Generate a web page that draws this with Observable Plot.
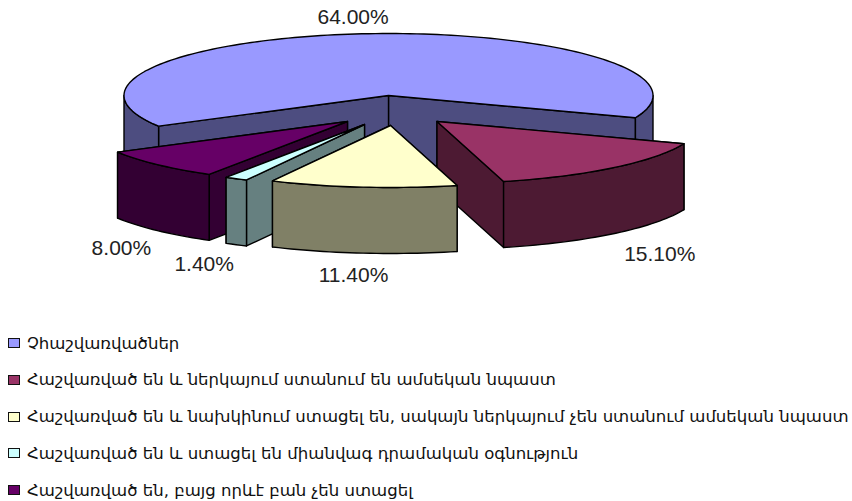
<!DOCTYPE html>
<html>
<head>
<meta charset="utf-8">
<script src="https://cdn.jsdelivr.net/npm/d3@7"></script>
<script src="https://cdn.jsdelivr.net/npm/@observablehq/plot@0.6"></script>
<style>
html,body{margin:0;padding:0;background:#fff;overflow:hidden;width:852px;height:501px}
svg{display:block}
#legend{padding-top:4px;font-family:"DejaVu Sans",sans-serif;font-size:16.56px;color:#111}
.row{display:flex;align-items:center;height:18px;margin-bottom:18.75px;white-space:nowrap}
.sw{box-sizing:border-box;width:12px;height:10px;border:1.5px solid #111;margin-left:8px;margin-right:7px;flex:none}
</style>
</head>
<body>
<div id="chart"></div>
<div id="legend"></div>
<script>
const categories = [
  "Չհաշվառվածներ",
  "Հաշվառված են և ներկայում ստանում են ամսեկան նպաստ",
  "Հաշվառված են և նախկինում ստացել են, սակայն ներկայում չեն ստանում ամսեկան նպաստ",
  "Հաշվառված են և ստացել են միանվագ դրամական օգնություն",
  "Հաշվառված են, բայց որևէ բան չեն ստացել"
];
const shares = [64.0, 15.1, 11.4, 1.4, 8.0];
const topColors = ["#9999FF", "#993366", "#FFFFCC", "#CCFFFF", "#660066"];
const wallColors = ["#4D4D80", "#4D1A33", "#808066", "#668080", "#330033"];

// pie layout
const W = 852, H = 330;
const cx = 388, cy = 95, rx = 264.5, ry = 62, depth = 66 / ry;
const firstAngle = 21;                 // where the second slice starts
const explodeX = [0, 48.5, 2, -24, -41]; // px
const explodeY = [0, 26, 30, 29, 26];    // px
const nudgeX = [-15.5, 46.5, -9.5, -32, -36];
const nudgeY = [-16, 21, 22, 20, 17.5];
const drawOrder = [0, 4, 1, 3, 2];

const total = d3.sum(shares);
const rad = d => d * Math.PI / 180;
const spans = shares.map(s => s / total * 360);
const ranges = [];
let a = firstAngle;
for (const i of [1, 2, 3, 4, 0]) { ranges[i] = [a, a + spans[i]]; a += spans[i]; }

const faces = [];
function addFace(poly, fill) {
  const id = faces.length ? faces[faces.length - 1].id + 1 : 0;
  [...poly, poly[0]].forEach(p => faces.push({id, x: p[0], y: p[1], fill}));
}
function arc(t0, t1, ex, ey, dz) {
  const n = Math.max(2, Math.ceil((t1 - t0) / 1.5));
  return d3.range(n + 1).map(k => {
    const t = rad(t0 + (t1 - t0) * k / n);
    return [ex + Math.cos(t), ey + Math.sin(t) + dz];
  });
}
const labels = [];
for (const i of drawOrder) {
  const [t0, t1] = ranges[i];
  const mid = (t0 + t1) / 2, ex = explodeX[i] / rx, ey = explodeY[i] / ry;
  const m = ((mid % 360) + 360) % 360;
  const cuts = m < 90 ? [t0, t1] : [t1, t0];
  for (const t of cuts) {
    const [p] = arc(t, t + 1, ex, ey, 0);
    addFace([[ex, ey], p, [p[0], p[1] + depth], [ex, ey + depth]], wallColors[i]);
  }
  for (const [lo, hi] of [[0, 180], [360, 540]]) {
    const s = Math.max(lo, t0), e = Math.min(hi, t1);
    if (e > s) addFace([...arc(s, e, ex, ey, 0), ...arc(s, e, ex, ey, depth).reverse()], wallColors[i]);
  }
  addFace([[ex, ey], ...arc(t0, t1, ex, ey, 0)], topColors[i]);
  const sinM = Math.sin(rad(mid));
  labels.push({
    x: ex + Math.cos(rad(mid)) + nudgeX[i] / rx,
    y: ey + sinM + (sinM > 0 ? depth : 0) + nudgeY[i] / ry,
    text: shares[i].toFixed(2) + "%"
  });
}

const plot = Plot.plot({
  width: W, height: H,
  margin: 0,
  x: {domain: [-cx / rx, (W - cx) / rx], range: [0, W], axis: null},
  y: {domain: [-cy / ry, (H - cy) / ry], range: [0, H], axis: null},
  color: {type: "identity"},
  style: {background: "#fff"},
  marks: [
    Plot.line(faces, {x: "x", y: "y", z: "id", fill: "fill", stroke: "#000", strokeWidth: 1.4,
      strokeLinejoin: "round", curve: "linear"}),
    Plot.text(labels, {x: "x", y: "y", text: "text", fontFamily: "Liberation Sans, Arial, sans-serif",
      fontSize: 21, fill: "#222", textAnchor: "middle", lineAnchor: "middle"})
  ]
});
document.getElementById("chart").append(plot);

const legend = d3.select("#legend");
categories.forEach((c, i) => {
  const r = legend.append("div").attr("class", "row");
  r.append("span").attr("class", "sw").style("background", topColors[i]);
  r.append("span").text(c);
});
</script>
</body>
</html>
